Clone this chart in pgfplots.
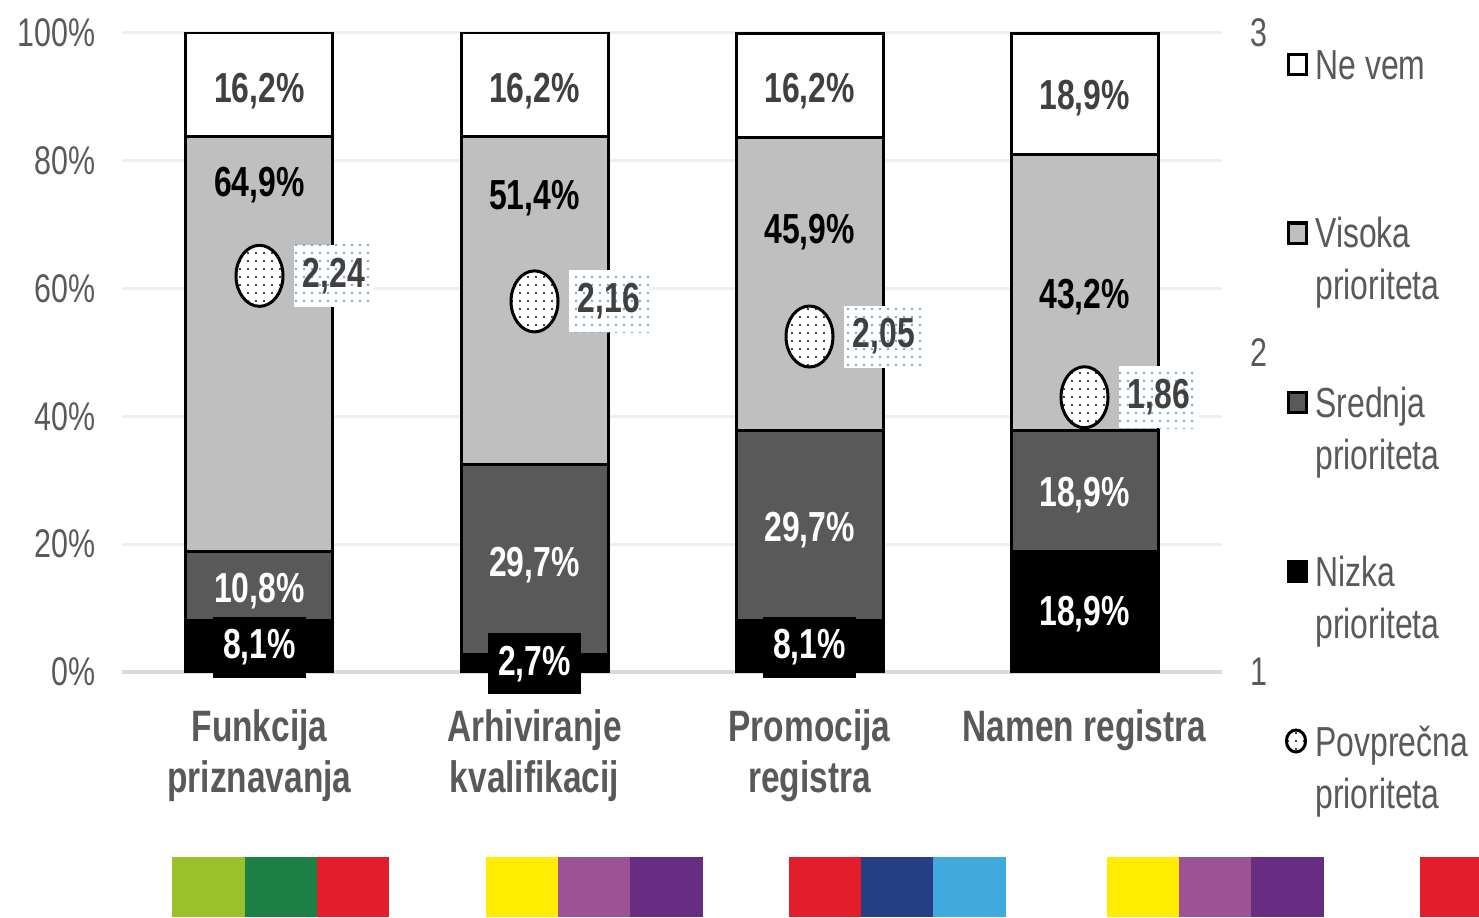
\documentclass[border=0pt]{standalone}
\usepackage{fontspec}
\setmainfont{Liberation Sans}[FakeStretch=0.76]
\usepackage{pgfplots}
\pgfplotsset{compat=1.18}
\usetikzlibrary{patterns}

\definecolor{txtgray}{HTML}{595959}
\definecolor{lblgray}{HTML}{404040}
\definecolor{segmid}{HTML}{595959}
\definecolor{seglight}{HTML}{BFBFBF}
\definecolor{gridgray}{HTML}{EFEFEF}
\definecolor{basegray}{HTML}{D9D9D9}
\definecolor{dotblue}{HTML}{6FA6DE}
\definecolor{sqlgreen}{HTML}{9BC12A}
\definecolor{sqgreen}{HTML}{1D8044}
\definecolor{sqred}{HTML}{E31E2A}
\definecolor{sqyellow}{HTML}{FFEC00}
\definecolor{sqpurple}{HTML}{9D5294}
\definecolor{sqdpurple}{HTML}{662D82}
\definecolor{sqnavy}{HTML}{253E86}
\definecolor{sqblue}{HTML}{40A9DD}

\newcommand\tickfont{\fontsize{20}{24}\selectfont}
\newcommand\catfont{\fontsize{22}{25.5}\selectfont\bfseries}
\newcommand\datafont{\fontsize{21}{25}\selectfont\bfseries}
\newcommand\legfont{\fontsize{21}{25}\selectfont}
% pixel -> picture coordinates (axis origin at pixel 122,672; 1px = 0.5pt)
\newcommand\px[2]{({(#1-122)*0.5pt},{(672-(#2))*0.5pt})}

\pgfdeclarepatternformonly{smalldots}{\pgfqpoint{-1pt}{-1pt}}{\pgfqpoint{1pt}{1pt}}{\pgfqpoint{4pt}{4pt}}{%
  \pgfpathcircle{\pgfpointorigin}{0.55pt}\pgfusepath{fill}}
\pgfdeclarepatternformonly{bluedots}{\pgfqpoint{-1pt}{-1pt}}{\pgfqpoint{1pt}{1pt}}{\pgfqpoint{4pt}{4pt}}{%
  \pgfpathcircle{\pgfpointorigin}{0.65pt}\pgfusepath{fill}}

\pgfdeclareplotmark{dotoval}{%
  \pgfpathellipse{\pgfpointorigin}{\pgfqpoint{11.75pt}{0pt}}{\pgfqpoint{0pt}{15.25pt}}%
  \pgfsetfillcolor{white}\pgfusepath{fill}%
  \pgfpathellipse{\pgfpointorigin}{\pgfqpoint{11.75pt}{0pt}}{\pgfqpoint{0pt}{15.25pt}}%
  \pgfsetfillpattern{smalldots}{black}\pgfusepath{fill}%
  \pgfpathellipse{\pgfpointorigin}{\pgfqpoint{11.75pt}{0pt}}{\pgfqpoint{0pt}{15.25pt}}%
  \pgfsetlinewidth{1.5pt}\pgfsetstrokecolor{black}\pgfusepath{stroke}}

\pgfplotsset{
  frame/.style={
    at={(0,0)}, anchor=south west,
    scale only axis, width=550pt, height=319.5pt,
    xmin=-0.5, xmax=3.5,
    major tick length=0pt, tick style={draw=none},
  },
  seglabel/.style={
    draw=none, mark=none,
    nodes near coords, point meta=explicit symbolic,
    nodes near coords style={anchor=center, font=\datafont, text=#1, inner sep=0pt, draw=none},
  },
}

\begin{document}
\begin{tikzpicture}
\useasboundingbox \px{0}{0} rectangle \px{1479}{917};

% stacked shares
\begin{axis}[
  frame,
  ymin=0, ymax=100,
  ybar stacked, bar width=73.5pt,
  xtick={0,1,2,3},
  xticklabels={{Funkcija\\priznavanja},{Arhiviranje\\kvalifikacij},{Promocija\\registra},{Namen registra}},
  xticklabel style={font=\catfont, text=txtgray, align=center, anchor=north, inner sep=0pt, yshift=-18.5pt},
  ytick={0,20,40,60,80,100},
  yticklabels={0\%,20\%,40\%,60\%,80\%,100\%},
  yticklabel style={font=\tickfont, text=txtgray, anchor=east, inner sep=0pt, xshift=-13pt},
  ymajorgrids, grid style={draw=gridgray, line width=1.5pt},
  axis x line*=bottom, axis y line*=left,
  x axis line style={draw=basegray, line width=2pt},
  y axis line style={draw=none},
]
\addplot[fill=black, draw=black, line width=1.5pt] coordinates {(0,8.1) (1,2.7) (2,8.1) (3,18.9)};
\addplot[fill=segmid, draw=black, line width=1.5pt] coordinates {(0,10.8) (1,29.7) (2,29.7) (3,18.9)};
\addplot[fill=seglight, draw=black, line width=1.5pt] coordinates {(0,64.9) (1,51.4) (2,45.9) (3,43.2)};
\addplot[fill=white, draw=black, line width=1.5pt] coordinates {(0,16.2) (1,16.2) (2,16.2) (3,18.9)};
\end{axis}

% segment labels
\begin{axis}[
  frame, ymin=0, ymax=100, hide axis, clip=false,
]
\addplot[seglabel=lblgray] table[meta=m] {
x y m
0 90.9 16,2\%
1 90.9 16,2\%
2 90.9 16,2\%
3 89.8 18,9\%
};
\addplot[seglabel=black] table[meta=m] {
x y m
0 76.2 64,9\%
1 74.2 51,4\%
2 68.9 45,9\%
3 58.7 43,2\%
};
\addplot[seglabel=white] table[meta=m] {
x y m
0 12.7 10,8\%
1 16.8 29,7\%
2 22.2 29,7\%
3 27.7 18,9\%
};
\addplot[seglabel=white, nodes near coords style={fill=black, minimum width=46.5pt, minimum height=30.5pt}] table[meta=m] {
x y m
0 3.9 8,1\%
1 1.3 2,7\%
2 3.9 8,1\%
3 9.0 18,9\%
};
\end{axis}

% average priority on the secondary axis
\begin{axis}[
  frame, ymin=1, ymax=3, clip=false,
  xtick=\empty,
  ytick={1,2,3}, yticklabels={1,2,3},
  yticklabel style={font=\tickfont, text=txtgray, anchor=west, inner sep=0pt, xshift=14pt},
  axis x line=none, axis y line*=right,
  y axis line style={draw=none},
]
\addplot[only marks, mark=dotoval, draw=none,
  point meta=y,
  nodes near coords={\pgfmathprintnumber[fixed,fixed zerofill,precision=2,use comma,assume math mode=true]{\pgfplotspointmeta}},
  nodes near coords style={anchor=west, xshift=16.5pt, inner sep=0pt, draw=none,
    minimum width=40pt, minimum height=31pt,
    font=\datafont, text=lblgray, fill=white,
    postaction={draw=none, pattern=bluedots, pattern color=dotblue}},
] coordinates {(0,2.24) (1,2.16) (2,2.05) (3,1.86)};
\end{axis}

% legend
\foreach \by/\col in {80/white, 248/seglight, 417/segmid, 586/black} {
  \draw[line width=1.5pt, fill=\col] \px{1288}{\by-25} rectangle \px{1306}{\by-5};
}
\draw[line width=1.5pt, preaction={fill=white}, pattern=smalldots] \px{1296}{741} ellipse (4.8pt and 5.5pt);
\begin{scope}[every node/.style={anchor=base west, inner sep=0pt, font=\legfont, text=txtgray}]
\node at \px{1315}{80} {Ne vem};
\node at \px{1315}{248} {Visoka};
\node at \px{1315}{300} {prioriteta};
\node at \px{1315}{417} {Srednja};
\node at \px{1315}{469} {prioriteta};
\node at \px{1315}{586} {Nizka};
\node at \px{1315}{638} {prioriteta};
\node at \px{1315}{756} {Povprečna};
\node at \px{1315}{808} {prioriteta};
\end{scope}

% colour strip
\fill[sqlgreen] \px{172}{857} rectangle \px{245}{917};
\fill[sqgreen] \px{245}{857} rectangle \px{317}{917};
\fill[sqred] \px{317}{857} rectangle \px{389}{917};
\fill[sqyellow] \px{486}{857} rectangle \px{558}{917};
\fill[sqpurple] \px{558}{857} rectangle \px{630}{917};
\fill[sqdpurple] \px{630}{857} rectangle \px{703}{917};
\fill[sqred] \px{789}{857} rectangle \px{861}{917};
\fill[sqnavy] \px{861}{857} rectangle \px{933}{917};
\fill[sqblue] \px{933}{857} rectangle \px{1006}{917};
\fill[sqyellow] \px{1107}{857} rectangle \px{1179}{917};
\fill[sqpurple] \px{1179}{857} rectangle \px{1251}{917};
\fill[sqdpurple] \px{1251}{857} rectangle \px{1324}{917};
\fill[sqred] \px{1420}{857} rectangle \px{1479}{917};
\end{tikzpicture}
\end{document}
